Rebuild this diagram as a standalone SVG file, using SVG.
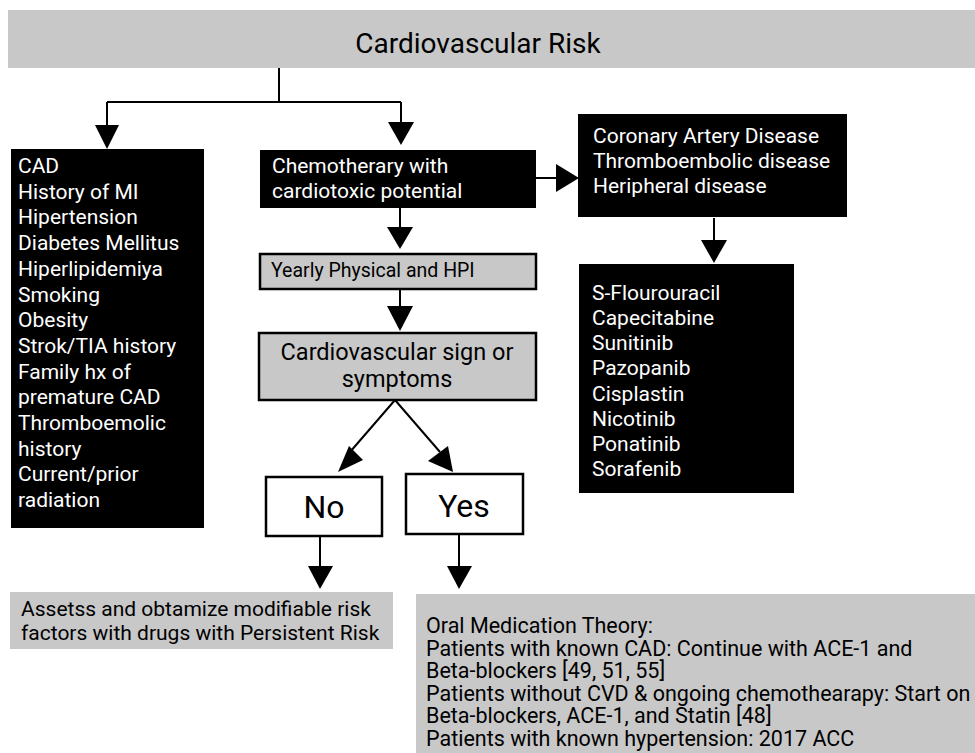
<svg xmlns="http://www.w3.org/2000/svg" width="975" height="753" viewBox="0 0 975 753">
<style>
.blk{fill:#000}
.gry{fill:#c8c8c8}
.gb{fill:#c8c8c8;stroke:#000;stroke-width:2.5}
.wb{fill:#fff;stroke:#000;stroke-width:2.5}
.wt{fill:#fff;font-family:Roboto,"Liberation Sans",sans-serif;font-size:21px}
.bt{fill:#000;font-family:Roboto,"Liberation Sans",sans-serif;font-size:21px}
.ln{stroke:#000;stroke-width:2;fill:none}
.ah{fill:#000}
</style>
<rect width="975" height="753" fill="#fff"/>
<g id="title">
<rect class="gry" x="8" y="10" width="967" height="58"/>
<text x="478" y="53" text-anchor="middle" class="bt" style="font-size:28px">Cardiovascular Risk</text>
</g>
<g id="connectors">
<path class="ln" d="M279,68 V102 M107,102 H401 M107,102 V126 M401,102 V124 M400,208 V229 M400,289 V307 M536,178 H557 M714,218 V241 M395,400 L350,452 M395,400 L440,452 M320,536 V567 M459,534 V567"/>
<polygon class="ah" points="95,125 119,125 107,149"/>
<polygon class="ah" points="388,122 414,122 401,145"/>
<polygon class="ah" points="387,227 413,227 400,249"/>
<polygon class="ah" points="387,306 413,306 400,331"/>
<polygon class="ah" points="556,164 556,192 579,178"/>
<polygon class="ah" points="701,240 727,240 714,263"/>
<polygon class="ah" points="349,446 363,460 338,472"/>
<polygon class="ah" points="428,461 448,446 453,472"/>
<polygon class="ah" points="308,566 333,566 320,589"/>
<polygon class="ah" points="447,566 472,566 459,589"/>
</g>
<g id="risk-factors">
<rect class="blk" x="11" y="149" width="193" height="379"/>
<text class="wt">
<tspan x="18" y="173">CAD</tspan>
<tspan x="18" y="198.7">History of MI</tspan>
<tspan x="18" y="224.4">Hipertension</tspan>
<tspan x="18" y="250.1">Diabetes Mellitus</tspan>
<tspan x="18" y="275.8">Hiperlipidemiya</tspan>
<tspan x="18" y="301.5">Smoking</tspan>
<tspan x="18" y="327.2">Obesity</tspan>
<tspan x="18" y="352.9">Strok/TIA history</tspan>
<tspan x="18" y="378.6">Family hx of</tspan>
<tspan x="18" y="404.3">premature CAD</tspan>
<tspan x="18" y="430">Thromboemolic</tspan>
<tspan x="18" y="455.7">history</tspan>
<tspan x="18" y="481.4">Current/prior</tspan>
<tspan x="18" y="507">radiation</tspan>
</text>
</g>
<g id="chemo">
<rect class="blk" x="260" y="150" width="276" height="58"/>
<text class="wt"><tspan x="272" y="173">Chemotherary with</tspan><tspan x="272" y="198">cardiotoxic potential</tspan></text>
</g>
<g id="diseases">
<rect class="blk" x="578" y="114" width="269" height="103"/>
<text class="wt"><tspan x="593" y="143">Coronary Artery Disease</tspan><tspan x="593" y="168">Thromboembolic disease</tspan><tspan x="593" y="193">Heripheral disease</tspan></text>
</g>
<g id="drugs">
<rect class="blk" x="579" y="264" width="215" height="229"/>
<text class="wt">
<tspan x="592" y="300">S-Flourouracil</tspan>
<tspan x="592" y="325.1">Capecitabine</tspan>
<tspan x="592" y="350.3">Sunitinib</tspan>
<tspan x="592" y="375.4">Pazopanib</tspan>
<tspan x="592" y="400.6">Cisplastin</tspan>
<tspan x="592" y="425.7">Nicotinib</tspan>
<tspan x="592" y="450.9">Ponatinib</tspan>
<tspan x="592" y="476">Sorafenib</tspan>
</text>
</g>
<g id="yearly">
<rect class="gb" x="260" y="254" width="276" height="35"/>
<text class="bt" x="271" y="277" style="font-size:19.5px">Yearly Physical and HPI</text>
</g>
<g id="signs">
<rect class="gb" x="259" y="333" width="277" height="67"/>
<text class="bt" text-anchor="middle" style="font-size:23.5px"><tspan x="397" y="360">Cardiovascular sign or</tspan><tspan x="397" y="387">symptoms</tspan></text>
</g>
<g id="no">
<rect class="wb" x="266" y="477" width="116" height="59"/>
<text class="bt" x="324" y="518" text-anchor="middle" style="font-size:32px">No</text>
</g>
<g id="yes">
<rect class="wb" x="406" y="474" width="117" height="60"/>
<text class="bt" x="464" y="517" text-anchor="middle" style="font-size:32px">Yes</text>
</g>
<g id="assess">
<rect class="gry" x="10" y="592" width="383" height="57"/>
<text class="bt"><tspan x="21" y="616">Assetss and obtamize modifiable risk</tspan><tspan x="21" y="640">factors with drugs with Persistent Risk</tspan></text>
</g>
<g id="oral">
<rect class="gry" x="416" y="594" width="559" height="159"/>
<text class="bt" style="font-size:21.5px">
<tspan x="426" y="633">Oral Medication Theory:</tspan>
<tspan x="426" y="655.6">Patients with known CAD: Continue with ACE-1 and</tspan>
<tspan x="426" y="678.2">Beta-blockers [49, 51, 55]</tspan>
<tspan x="426" y="700.8">Patients without CVD &amp; ongoing chemothearapy: Start on</tspan>
<tspan x="426" y="723.4">Beta-blockers, ACE-1, and Statin [48]</tspan>
<tspan x="426" y="746">Patients with known hypertension: 2017 ACC</tspan>
</text>
</g>
</svg>
